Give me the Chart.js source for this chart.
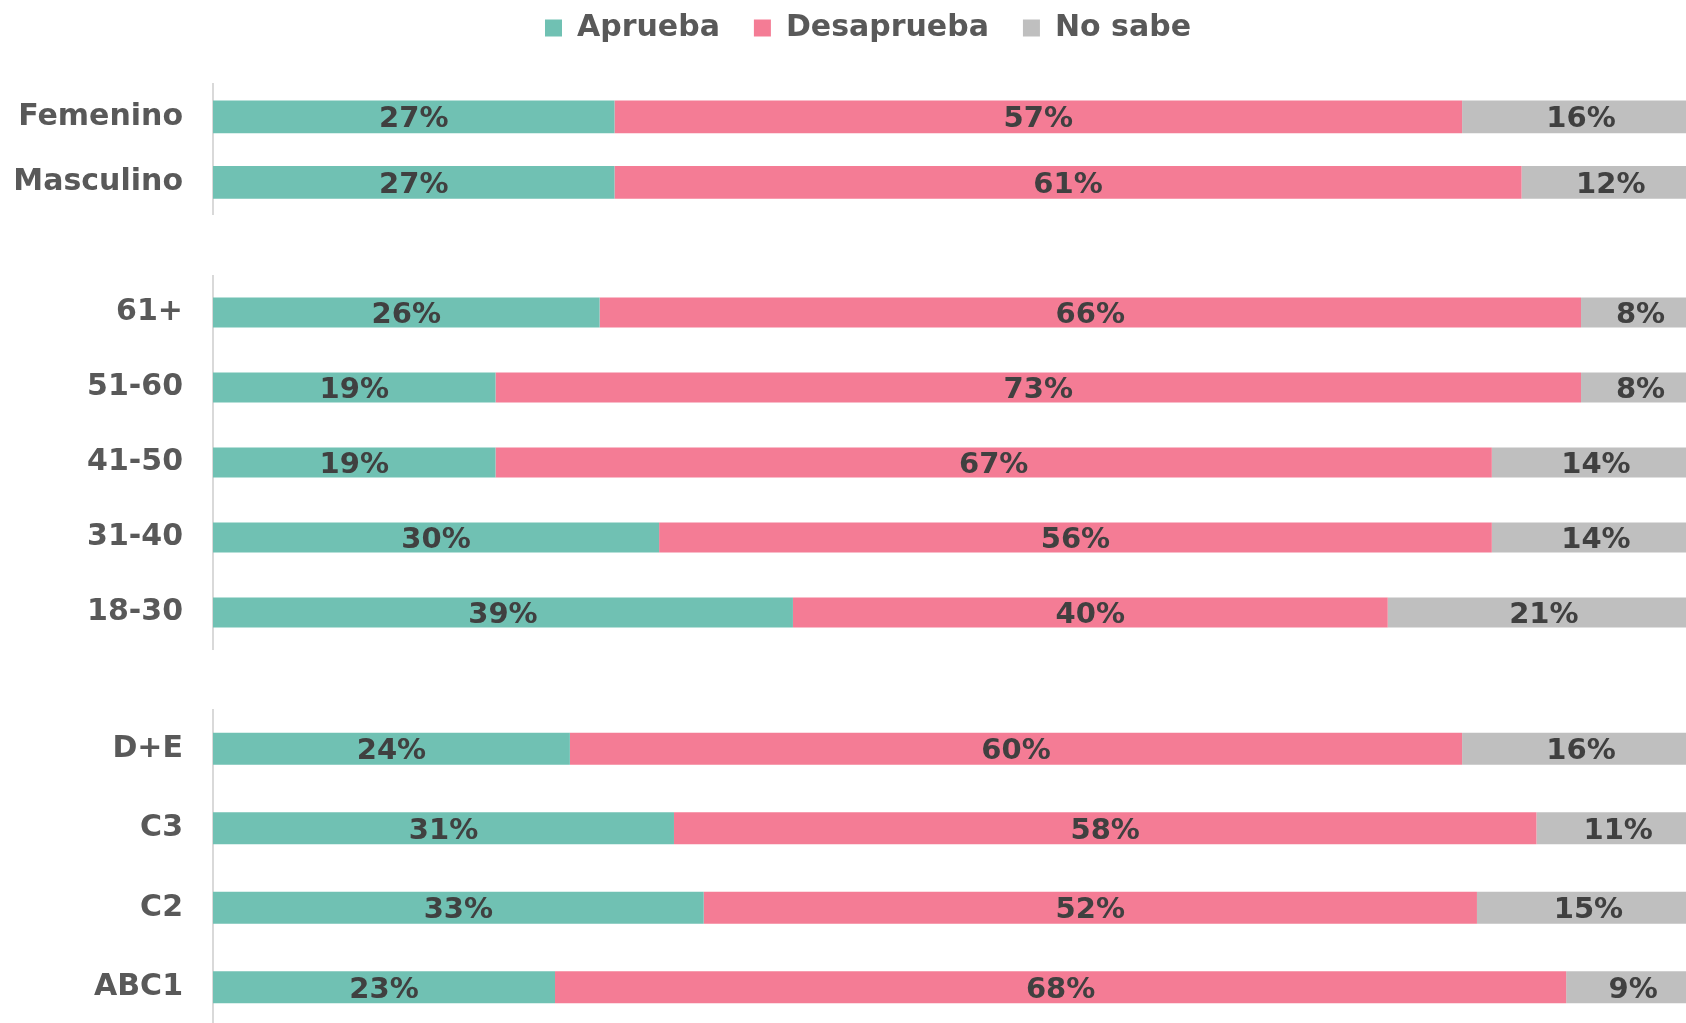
<!DOCTYPE html>
<html><head><meta charset="utf-8">
<script src="https://cdn.jsdelivr.net/npm/chart.js@4"></script>
<style>
html,body{margin:0;padding:0;background:#fff;overflow:hidden;width:1686px;height:1023px;position:relative;}
canvas{position:absolute;left:0;}
</style></head><body>
<canvas id="c1" width="1700" height="236" style="top:-21px"></canvas>
<canvas id="c2" width="1700" height="375" style="top:275px"></canvas>
<canvas id="c3" width="1700" height="318" style="top:709px"></canvas>
<script>
const seriesNames = ['Aprueba', 'Desaprueba', 'No sabe'];

const genderCats = ['Femenino', 'Masculino'];
const genderAprueba = [27, 27];
const genderDesaprueba = [57, 61];
const genderNoSabe = [16, 12];

const ageCats = ['61+', '51-60', '41-50', '31-40', '18-30'];
const ageAprueba = [26, 19, 19, 30, 39];
const ageDesaprueba = [66, 73, 67, 56, 40];
const ageNoSabe = [8, 8, 14, 14, 21];

const gseCats = ['D+E', 'C3', 'C2', 'ABC1'];
const gseAprueba = [24, 31, 33, 23];
const gseDesaprueba = [60, 58, 52, 68];
const gseNoSabe = [16, 11, 15, 9];

const colors = ['#70C1B3', '#F47C95', '#BFBFBF'];
const FONT = 'DejaVu Sans';

const valueLabels = {
  id: 'valueLabels',
  afterDatasetsDraw(chart) {
    const ctx = chart.ctx;
    ctx.save();
    ctx.font = 'bold 29px "' + FONT + '"';
    ctx.fillStyle = '#404040';
    ctx.textAlign = 'center';
    ctx.textBaseline = 'middle';
    chart.data.datasets.forEach((ds, i) => {
      chart.getDatasetMeta(i).data.forEach((bar, j) => {
        const p = bar.getCenterPoint();
        ctx.fillText(ds.data[j] + '%', p.x, p.y + 3);
      });
    });
    ctx.restore();
  }
};

const legendFit = {
  id: 'legendFit',
  beforeInit(chart) {
    const orig = chart.legend.fit;
    chart.legend.fit = function () {
      orig.call(this);
      this.height = 105;
    };
  },
  afterLayout(chart) {
    chart.legend.left += 36;
  }
};

function makeChart(id, cats, a, d, n, barPct, withLegend) {
  return new Chart(document.getElementById(id), {
    type: 'bar',
    data: {
      labels: cats,
      datasets: [
        { label: seriesNames[0], data: a, backgroundColor: colors[0] },
        { label: seriesNames[1], data: d, backgroundColor: colors[1] },
        { label: seriesNames[2], data: n, backgroundColor: colors[2] }
      ]
    },
    options: {
      indexAxis: 'y',
      responsive: false,
      animation: false,
      layout: { padding: 0 },
      datasets: { bar: { categoryPercentage: 1, barPercentage: barPct } },
      scales: {
        x: { stacked: true, min: 0, max: 100, display: false },
        y: {
          stacked: true,
          grid: { display: false, drawTicks: false },
          border: { display: true, color: '#D9D9D9', width: 2 },
          ticks: { color: '#595959', font: { family: FONT, size: 30, weight: 'bold' }, padding: 30 },
          afterFit(s) { s.width = 213; s.paddingTop = 0; s.paddingBottom = 0; }
        }
      },
      plugins: {
        legend: {
          display: withLegend,
          position: 'top',
          labels: {
            boxWidth: 17, boxHeight: 17, padding: 34,
            color: '#595959',
            font: { family: FONT, size: 30, weight: 'bold' }
          }
        },
        tooltip: { enabled: false }
      }
    },
    plugins: withLegend ? [valueLabels, legendFit] : [valueLabels]
  });
}

makeChart('c1', genderCats, genderAprueba, genderDesaprueba, genderNoSabe, 0.5, true);
makeChart('c2', ageCats, ageAprueba, ageDesaprueba, ageNoSabe, 0.4, false);
makeChart('c3', gseCats, gseAprueba, gseDesaprueba, gseNoSabe, 0.4, false);
</script>
</body></html>
